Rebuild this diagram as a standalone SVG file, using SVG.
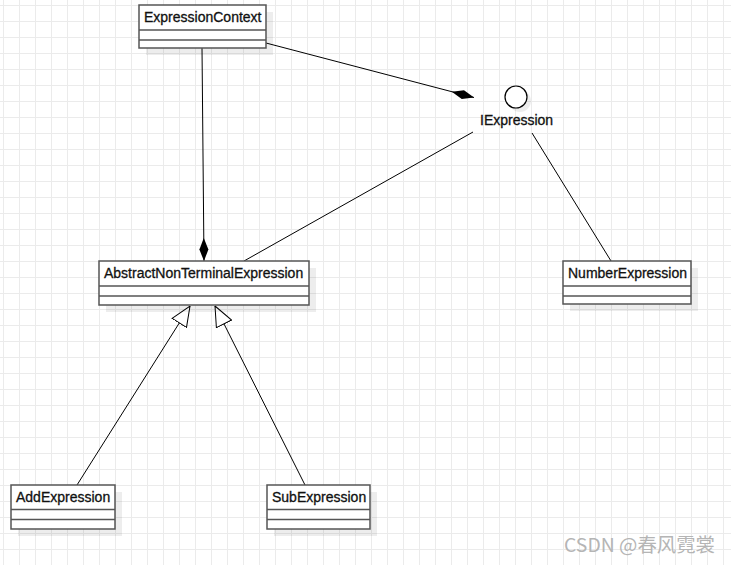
<svg xmlns="http://www.w3.org/2000/svg" width="731" height="565" viewBox="0 0 731 565">
  <style>
    .box { fill: #ffffff; stroke: #555555; stroke-width: 1.5; }
    .sep { stroke: #555555; stroke-width: 1.5; }
    .shadow { fill: #000000; opacity: 0.07; }
    .label { font-family: "Liberation Sans", Arial, sans-serif; font-size: 14px; fill: #111111; stroke: #111111; stroke-width: 0.3; }
    .conn { fill: none; stroke: #000000; stroke-width: 1; }
  </style>
  <defs>
    <pattern id="grid" patternUnits="userSpaceOnUse" x="3" y="5" width="16" height="16">
      <path d="M0 0.5H16M0.5 0V16" stroke="#ebebeb" stroke-width="1" fill="none"/>
    </pattern>
    <marker id="diamond" markerUnits="userSpaceOnUse" viewBox="0 0 23 10" refX="23" refY="5" markerWidth="23" markerHeight="10" orient="auto">
      <path d="M0 5L11.5 0.5L23 5L11.5 9.5Z" fill="#000000"/>
    </marker>
    <marker id="triangle" markerUnits="userSpaceOnUse" viewBox="0 0 21 19" refX="20.5" refY="9.5" markerWidth="21" markerHeight="19" orient="auto">
      <path d="M0.5 1L20.5 9.5L0.5 18Z" fill="#ffffff" stroke="#000000" stroke-width="1"/>
    </marker>
  </defs>

  <rect width="731" height="565" fill="#ffffff"/>
  <rect width="731" height="565" fill="url(#grid)"/>

  <g id="connectors">
    <path class="conn" d="M266 43L474 97.5" marker-end="url(#diamond)"/>
    <path class="conn" d="M202 48L204 261" marker-end="url(#diamond)"/>
    <path class="conn" d="M473 132L244 261"/>
    <path class="conn" d="M532 133L611 261"/>
    <path class="conn" d="M77 485L190 306" marker-end="url(#triangle)"/>
    <path class="conn" d="M305 485L215 306" marker-end="url(#triangle)"/>
  </g>

  <g id="ExpressionContext">
    <rect class="shadow" x="146" y="12" width="127" height="43"/>
    <rect class="box" x="139" y="5" width="127" height="43"/>
    <line class="sep" x1="139" y1="30" x2="266" y2="30"/>
    <line class="sep" x1="139" y1="40" x2="266" y2="40"/>
    <text class="label" x="144" y="22">ExpressionContext</text>
  </g>

  <g id="IExpression">
    <circle cx="520" cy="101" r="11" fill="#000000" opacity="0.07"/>
    <circle cx="516" cy="97" r="11" fill="#ffffff" stroke="#000000" stroke-width="1.2"/>
    <text class="label" x="480" y="125">IExpression</text>
  </g>

  <g id="AbstractNonTerminalExpression">
    <rect class="shadow" x="106" y="268" width="210" height="44"/>
    <rect class="box" x="99" y="261" width="210" height="44"/>
    <line class="sep" x1="99" y1="286" x2="309" y2="286"/>
    <line class="sep" x1="99" y1="296" x2="309" y2="296"/>
    <text class="label" x="104" y="278">AbstractNonTerminalExpression</text>
  </g>

  <g id="NumberExpression">
    <rect class="shadow" x="570" y="268" width="128" height="43"/>
    <rect class="box" x="563" y="261" width="128" height="43"/>
    <line class="sep" x1="563" y1="286" x2="691" y2="286"/>
    <line class="sep" x1="563" y1="296" x2="691" y2="296"/>
    <text class="label" x="568" y="278">NumberExpression</text>
  </g>

  <g id="AddExpression">
    <rect class="shadow" x="18" y="492" width="104" height="44"/>
    <rect class="box" x="11" y="485" width="104" height="44"/>
    <line class="sep" x1="11" y1="509.5" x2="115" y2="509.5"/>
    <line class="sep" x1="11" y1="519.5" x2="115" y2="519.5"/>
    <text class="label" x="16" y="502">AddExpression</text>
  </g>

  <g id="SubExpression">
    <rect class="shadow" x="274" y="492" width="103" height="44"/>
    <rect class="box" x="267" y="485" width="103" height="44"/>
    <line class="sep" x1="267" y1="509.5" x2="370" y2="509.5"/>
    <line class="sep" x1="267" y1="519.5" x2="370" y2="519.5"/>
    <text class="label" x="272" y="502">SubExpression</text>
  </g>

  <text x="564" y="552" font-family="'Noto Sans CJK SC', 'Noto Sans', sans-serif" font-size="19" fill="#b5b5b5" textLength="151" lengthAdjust="spacingAndGlyphs">CSDN @春风霓裳</text>
</svg>
